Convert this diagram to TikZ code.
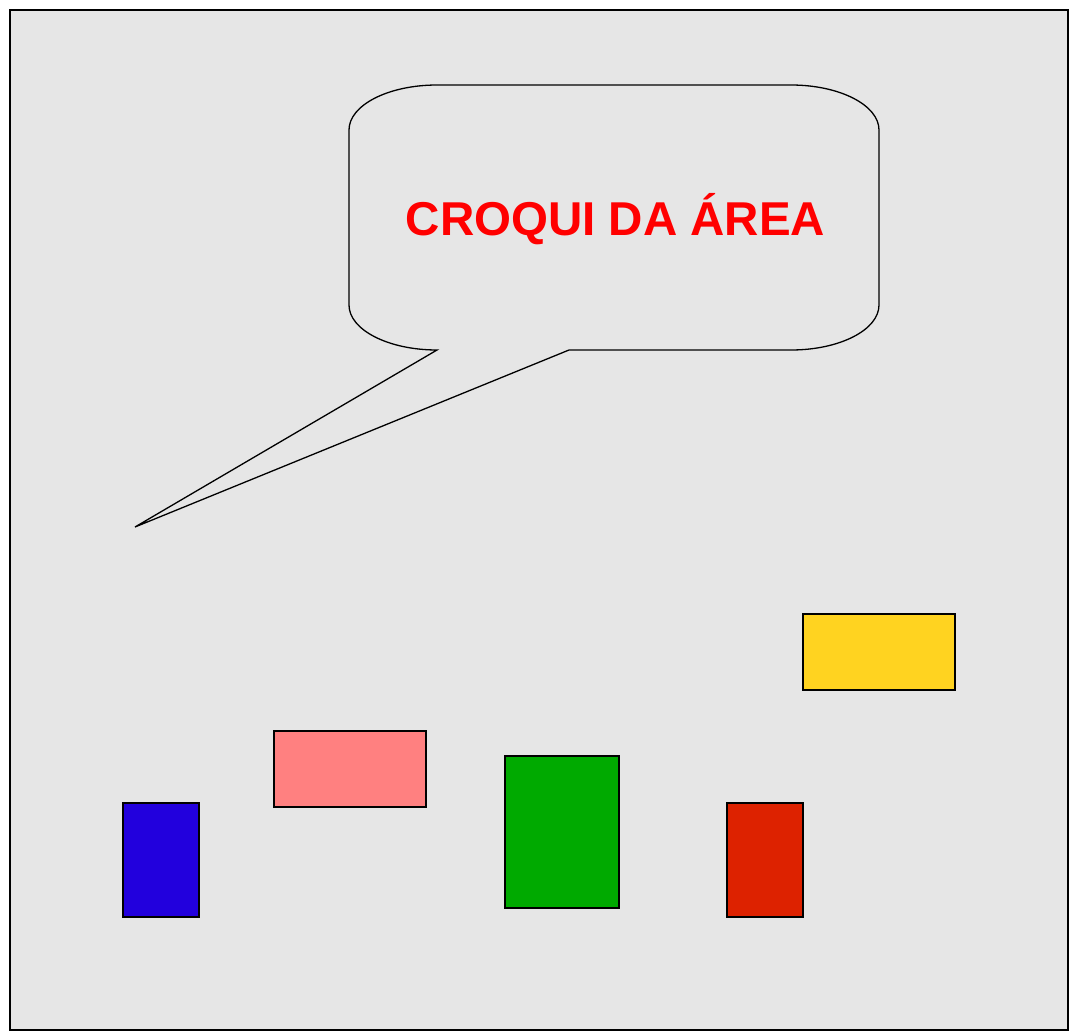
\documentclass[tikz,border=0pt]{standalone}
\usepackage{fontspec}
\setmainfont{Liberation Sans}
\begin{document}
\begin{tikzpicture}[x=1pt,y=-1pt,
  box/.style={draw=black,line width=1.3pt,anchor=north west,inner sep=0pt,outer sep=0pt},
  bubble/.style={draw=black,line width=1.3pt,fill=bg},
  title/.style={text=red,font=\bfseries\fontsize{47.5}{56}\selectfont,inner sep=0pt}]
\definecolor{bg}{HTML}{E6E6E6}
\definecolor{cblue}{HTML}{2200DD}
\definecolor{cpink}{HTML}{FF8080}
\definecolor{cgreen}{HTML}{00AA00}
\definecolor{cred}{HTML}{DD2200}
\definecolor{cyellow}{HTML}{FFD320}
\useasboundingbox (0,0) rectangle (1069,1031);
\fill[white] (0,0) rectangle (1069,1031);
\draw[line width=1.3pt,fill=bg] (10,10) rectangle (1068,1030);
% callout
\draw[bubble] (437,350) -- (135,527) -- (569,350) -- (791,350)
  .. controls (839.6,350) and (879,329.9) .. (879,305) -- (879,130)
  .. controls (879,105.1) and (839.6,85) .. (791,85) -- (437,85)
  .. controls (388.4,85) and (349,105.1) .. (349,130) -- (349,305)
  .. controls (349,329.9) and (388.4,350) .. (437,350) -- cycle;
\node[title,anchor=base] (t) at (615.5,235) {CROQUI DA ÁREA};
% rectangles
\node[box,fill=cblue,minimum width=76pt,minimum height=114pt] (blue) at (123,803) {};
\node[box,fill=cpink,minimum width=152pt,minimum height=76pt] (pink) at (274,731) {};
\node[box,fill=cgreen,minimum width=114pt,minimum height=152pt] (green) at (505,756) {};
\node[box,fill=cred,minimum width=76pt,minimum height=114pt] (red) at (727,803) {};
\node[box,fill=cyellow,minimum width=152pt,minimum height=76pt] (yellow) at (803,614) {};
\end{tikzpicture}
\end{document}
